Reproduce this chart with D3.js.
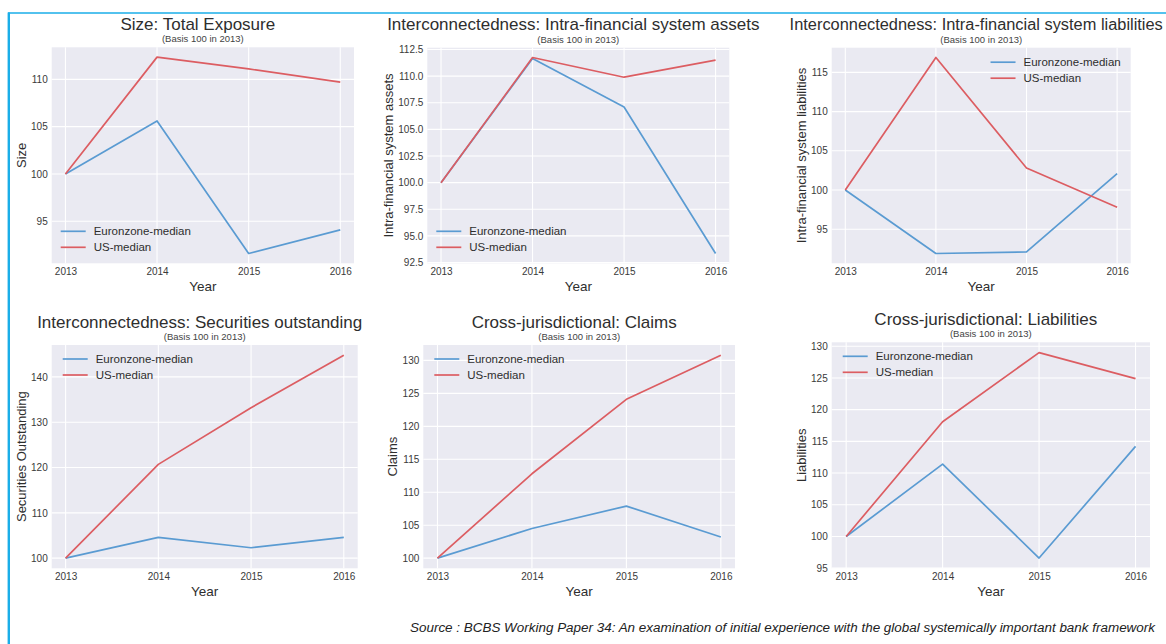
<!DOCTYPE html>
<html>
<head>
<meta charset="utf-8">
<script src="https://cdn.jsdelivr.net/npm/d3@7"></script>
<style>
  html, body { margin: 0; padding: 0; background: #ffffff; }
  svg { display: block; font-family: Arial, "Liberation Sans", sans-serif; }
</style>
</head>
<body>
<svg id="chart" width="1166" height="644"></svg>
<script>
// ---- data ----
const years = [2013, 2014, 2015, 2016];
const seriesNames = ["Euronzone-median", "US-median"];

const sizeEuro = [100, 105.6, 91.6, 94.1];
const sizeUS = [100, 112.35, 111.1, 109.7];

const assetsEuro = [100, 111.65, 107.1, 93.35];
const assetsUS = [100, 111.75, 109.9, 111.5];

const liabEuro = [100, 91.9, 92.1, 102.1];
const liabUS = [100, 116.9, 102.8, 97.8];

const securitiesEuro = [100, 104.6, 102.3, 104.6];
const securitiesUS = [100, 120.7, 133.2, 144.8];

const claimsEuro = [100, 104.5, 107.9, 103.2];
const claimsUS = [100, 112.8, 124.1, 130.8];

const crossLiabEuro = [100, 111.4, 96.6, 114.2];
const crossLiabUS = [100, 118.1, 129.0, 124.9];

const titles = [
  "Size: Total Exposure",
  "Interconnectedness: Intra-financial system assets",
  "Interconnectedness: Intra-financial system liabilities",
  "Interconnectedness: Securities outstanding",
  "Cross-jurisdictional: Claims",
  "Cross-jurisdictional: Liabilities"
];
const subtitle = "(Basis 100 in 2013)";
const yLabels = ["Size", "Intra-financial system assets", "Intra-financial system liabilities",
                 "Securities Outstanding", "Claims", "Liabilities"];
const xLabel = "Year";

const ticksSize = [95, 100, 105, 110];
const ticksAssets = [92.5, 95, 97.5, 100, 102.5, 105, 107.5, 110, 112.5];
const ticksLiab = [95, 100, 105, 110, 115];
const ticksSecurities = [100, 110, 120, 130, 140];
const ticksClaims = [100, 105, 110, 115, 120, 125, 130];
const ticksCrossLiab = [95, 100, 105, 110, 115, 120, 125, 130];

const sourceText = "Source : BCBS Working Paper 34: An examination of initial experience with the global  systemically important bank framework";

// ---- layout (plot rectangles and legend placement) ----
const panels = [
  { euro: sizeEuro, us: sizeUS, ticks: ticksSize, fmt: d3.format("d"), box: [51.7, 47.3, 354, 263.3], legend: "lower-left" },
  { euro: assetsEuro, us: assetsUS, ticks: ticksAssets, fmt: d3.format(".1f"), box: [427.3, 47.7, 729.3, 263.3], legend: "lower-left" },
  { euro: liabEuro, us: liabUS, ticks: ticksLiab, fmt: d3.format("d"), box: [831.7, 47.7, 1130.7, 263.3], legend: "upper-right" },
  { euro: securitiesEuro, us: securitiesUS, ticks: ticksSecurities, fmt: d3.format("d"), box: [51.7, 345, 357.7, 568.3], legend: "upper-left" },
  { euro: claimsEuro, us: claimsUS, ticks: ticksClaims, fmt: d3.format("d"), box: [423.3, 345, 735, 568.3], legend: "upper-left" },
  { euro: crossLiabEuro, us: crossLiabUS, ticks: ticksCrossLiab, fmt: d3.format("d"), box: [831.7, 342.3, 1150, 568.3], legend: "upper-left" }
];

const colors = { euro: "#5a9bd2", us: "#dc5d62" };
const bg = "#eaeaf2";
const textDark = "#2e2e2e";
const pageRight = 1163;

const svg = d3.select("#chart");

// frame lines
svg.append("line").attr("x1", 8).attr("x2", 1166).attr("y1", 13).attr("y2", 13)
  .attr("stroke", "#1aaee8").attr("stroke-width", 1.5);
svg.append("line").attr("x1", 8.8).attr("x2", 8.8).attr("y1", 12.5).attr("y2", 644)
  .attr("stroke", "#1aaee8").attr("stroke-width", 2.4);

panels.forEach((p, i) => {
  const [x0, y0, x1, y1] = p.box;
  const g = svg.append("g");

  // matplotlib-style 5% margins on both axes
  const xPad = 0.05 * (d3.max(years) - d3.min(years));
  const x = d3.scaleLinear()
    .domain([d3.min(years) - xPad, d3.max(years) + xPad])
    .range([x0, x1]);
  const all = p.euro.concat(p.us);
  const lo = d3.min(all), hi = d3.max(all), pad = 0.05 * (hi - lo);
  const y = d3.scaleLinear().domain([lo - pad, hi + pad]).range([y1, y0]);
  const dom = y.domain();
  const ticks = p.ticks.filter(t => t >= dom[0] - 0.05 && t <= dom[1] + 0.05);

  g.append("rect").attr("x", x0).attr("y", y0)
    .attr("width", x1 - x0).attr("height", y1 - y0).attr("fill", bg);

  // grid
  g.selectAll(".hg").data(ticks).enter().append("line")
    .attr("x1", x0).attr("x2", x1)
    .attr("y1", d => y(d)).attr("y2", d => y(d))
    .attr("stroke", "#ffffff").attr("stroke-width", 1.1);
  g.selectAll(".vg").data(years).enter().append("line")
    .attr("y1", y0).attr("y2", y1)
    .attr("x1", d => x(d)).attr("x2", d => x(d))
    .attr("stroke", "#ffffff").attr("stroke-width", 1.1);

  // axes through d3 axis generators, spines and tick marks hidden
  const ya = g.append("g").attr("transform", `translate(${x0},0)`)
    .call(d3.axisLeft(y).tickValues(ticks).tickFormat(p.fmt).tickSize(0).tickPadding(4));
  const xa = g.append("g").attr("transform", `translate(0,${y1})`)
    .call(d3.axisBottom(x).tickValues(years).tickFormat(d3.format("d")).tickSize(0).tickPadding(5));
  [ya, xa].forEach(a => {
    a.select(".domain").remove();
    a.selectAll("text").attr("font-size", 10).attr("fill", "#3a3a3a")
      .attr("font-family", "Arial, 'Liberation Sans', sans-serif");
  });

  // lines
  const line = d3.line().x((d, j) => x(years[j])).y(d => y(d));
  g.append("path").datum(p.euro).attr("d", line).attr("fill", "none")
    .attr("stroke", colors.euro).attr("stroke-width", 1.7).attr("stroke-linejoin", "round");
  g.append("path").datum(p.us).attr("d", line).attr("fill", "none")
    .attr("stroke", colors.us).attr("stroke-width", 1.7).attr("stroke-linejoin", "round");

  // titles (kept inside the page on the right-hand edge)
  const cx = (x0 + x1) / 2;
  const title = g.append("text").attr("x", cx - 5).attr("y", y0 - 17.5).attr("text-anchor", "middle")
    .attr("font-size", 17).attr("fill", textDark).text(titles[i]);
  const tw0 = title.node().getComputedTextLength();
  if (cx - 5 + tw0 / 2 > pageRight) {
    const fitW = 2 * (pageRight - (cx - 5));
    title.attr("font-size", 17 * fitW / tw0);
  }
  g.append("text").attr("x", cx).attr("y", y0 - 5).attr("text-anchor", "middle")
    .attr("font-size", 9.5).attr("fill", "#444").text(subtitle);

  // axis labels
  g.append("text").attr("x", cx).attr("y", y1 + 27.5).attr("text-anchor", "middle")
    .attr("font-size", 13.5).attr("fill", textDark).text(xLabel);
  let maxW = 0;
  ya.selectAll("text").each(function () { maxW = Math.max(maxW, this.getComputedTextLength()); });
  const lx = x0 - 4 - maxW - 10;
  g.append("text").attr("transform", `translate(${lx},${(y0 + y1) / 2}) rotate(-90)`)
    .attr("text-anchor", "middle").attr("dy", "0.35em")
    .attr("font-size", 13).attr("fill", textDark).text(yLabels[i]);

  // legend
  const rows = [{ name: seriesNames[0], c: colors.euro }, { name: seriesNames[1], c: colors.us }];
  const lg = g.append("g");
  const items = lg.selectAll("g").data(rows).enter().append("g");
  items.append("line").attr("x1", 0).attr("x2", 25).attr("y1", 0).attr("y2", 0)
    .attr("stroke", d => d.c).attr("stroke-width", 1.7);
  items.append("text").attr("x", 33).attr("y", 4).attr("font-size", 11.5)
    .attr("fill", textDark).text(d => d.name);
  let tw = 0;
  items.selectAll("text").each(function () { tw = Math.max(tw, this.getComputedTextLength()); });
  let lx0, ly0;
  if (p.legend === "lower-left") { lx0 = x0 + 9; ly0 = y1 - 32; }
  else if (p.legend === "upper-left") { lx0 = x0 + 11; ly0 = y0 + 14; }
  else { lx0 = x1 - 10 - tw - 33; ly0 = y0 + 14.5; }
  items.attr("transform", (d, j) => `translate(${lx0},${ly0 + j * 16})`);
});

// source note, stretched across the bottom right
svg.append("text").attr("x", 410).attr("y", 632)
  .attr("font-size", 12).attr("font-style", "italic").attr("fill", "#222")
  .attr("textLength", 745).attr("lengthAdjust", "spacingAndGlyphs")
  .text(sourceText);
</script>
</body>
</html>
